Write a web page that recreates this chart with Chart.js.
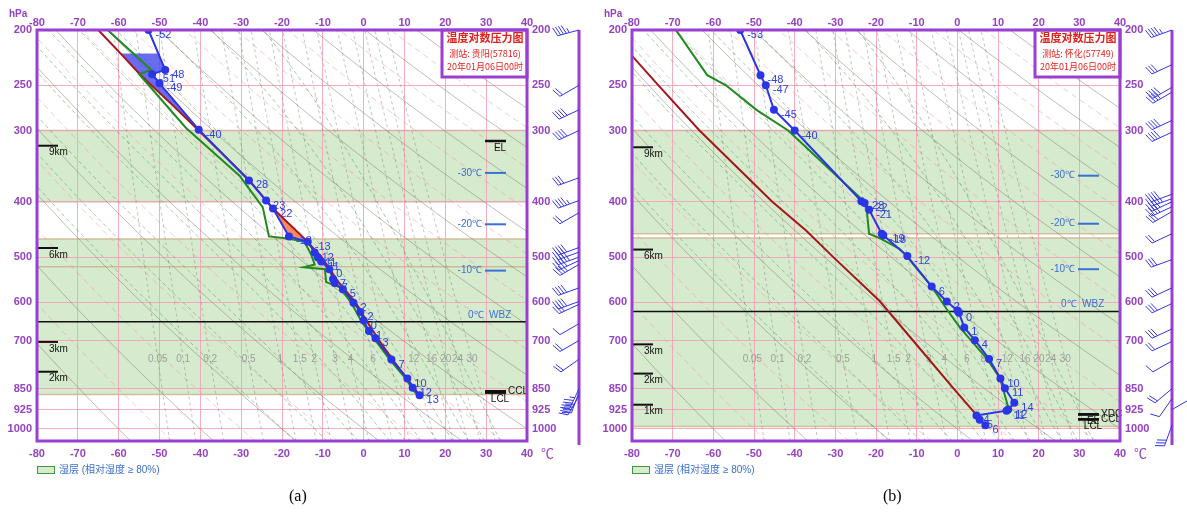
<!DOCTYPE html>
<html>
<head>
<meta charset="utf-8">
<script src="https://cdn.jsdelivr.net/npm/chart.js@4.4.1/dist/chart.umd.min.js"></script>
<style>
  body { margin: 0; background: #fff; width: 1187px; height: 514px; overflow: hidden; position: relative; }
  #ca { position: absolute; left: 0; top: 0; }
  #cb { position: absolute; left: 595px; top: 0; }
  .cap { position: absolute; top: 487px; font: 16px 'Liberation Serif', serif; color: #000; }
</style>
</head>
<body>
<canvas id="ca" width="595" height="514"></canvas>
<canvas id="cb" width="592" height="514"></canvas>
<div class="cap" style="left:289px">(a)</div>
<div class="cap" style="left:883px">(b)</div>
<script>
// axis ticks
const pressureTicks = [200, 250, 300, 400, 500, 600, 700, 850, 925, 1000];
const tempTicks = [-80, -70, -60, -50, -40, -30, -20, -10, 0, 10, 20, 30, 40];

// background families
const dryTheta = [-60, -40, -20, 0, 20, 40, 60, 80, 100, 120, 140, 160, 180, 200];
const pinkTheta = [-50, -30, -10, 10, 30, 50, 70, 90, 110, 130, 150, 170];
const moistStart = [-20, -12, -4, 4, 8, 12, 16, 20, 24, 28, 32];
const mixRatios = [0.05, 0.1, 0.2, 0.5, 1, 1.5, 2, 3, 4, 6, 8, 12, 16, 20, 24, 30];

// (a) 贵阳 57816
const aTempP = [200, 235, 239, 248, 299, 367, 398, 411, 460, 470, 491, 501, 509, 525, 546, 555, 569, 601, 624, 646, 674, 694, 756, 816, 847, 873];
const aTempT = [-52.7, -48.6, -51.8, -50.0, -40.4, -28.1, -23.9, -22.2, -18.3, -13.7, -12.0, -11.2, -10.4, -8.4, -7.5, -7.1, -5.1, -2.5, -0.8, 0.0, 1.3, 2.9, 6.8, 10.7, 12.0, 13.7];
const aTempLabels = ['-52', '48', '-51', '-49', '-40', '28', '23', '22', '-18', '-13', '12', '11', '11', '0', '7', '7', '5', '2', '2', '0', '1', '3', '7', '10', '12', '13'];
const aDewP = [200, 235, 239, 297, 360, 409, 460, 464, 470, 496, 515, 521, 525, 553, 565, 602, 649, 694, 756, 816, 847, 873];
const aDewT = [-62.7, -52.0, -55.0, -43.5, -30.4, -24.7, -23.2, -18.5, -14.5, -12.8, -12.0, -14.7, -9.5, -9.2, -5.8, -3.0, -0.5, 2.5, 6.4, 10.3, 11.7, 13.2];
const aParcelP = [200, 220, 240, 270, 300, 367, 411, 464, 500, 555, 600, 650, 700, 760, 820, 873];
const aParcelT = [-65.0, -59.5, -54.6, -47.0, -40.4, -28.0, -22.2, -14.5, -10.3, -6.0, -2.0, 0.9, 3.8, 7.3, 10.8, 13.7];
const aHumid = [[300, 400], [465, 520], [520, 870]];
const aHeightNames = ['9km', '6km', '3km', '2km'];
const aHeightP = [319, 482, 704, 794];
const aIsoNames = ['-30℃', '-20℃', '-10℃'];
const aIsoP = [356, 438, 528];
const aWbzP = 649;
const aMarkNames = ['EL', 'CCL', 'LCL'];
const aMarkP = [313, 859, 864];
const aWindP = [200, 250, 276, 300, 363, 398, 418, 481, 490, 500, 507, 515, 566, 598, 605, 654, 700, 755, 850, 862, 875];
const aWindDir = [255, 240, 245, 245, 250, 250, 240, 250, 250, 250, 245, 240, 250, 250, 245, 240, 240, 235, 205, 200, 210];
const aWindSpd = [45, 20, 40, 40, 30, 45, 20, 40, 40, 45, 40, 35, 40, 40, 30, 10, 20, 20, 45, 40, 30];

// (b) 怀化 57749
const bTempP = [200, 240, 250, 276, 300, 399, 402, 413, 455, 458, 498, 563, 598, 620, 626, 664, 699, 754, 816, 849, 900, 925, 929, 947, 964, 985];
const bTempT = [-53.4, -48.4, -47.1, -45.1, -40.0, -23.6, -22.8, -21.7, -18.6, -18.2, -12.3, -6.3, -2.6, 0.0, 0.4, 1.7, 4.3, 7.8, 10.6, 11.7, 14.0, 12.5, 12.1, 4.7, 5.5, 6.9];
const bTempLabels = ['-53', '-48', '-47', '-45', '-40', '-23', '-22', '-21', '-19', '-18', '-12', '6', '2', '', '0', '1', '4', '7', '10', '11', '14', '12', '11', '4', '5', '6'];
const bDewP = [200, 240, 250, 276, 300, 393, 411, 455, 463, 483, 494, 563, 617, 664, 752, 816, 915, 925];
const bDewT = [-69.2, -61.5, -56.9, -49.4, -41.6, -24.0, -22.3, -21.7, -19.1, -14.3, -12.9, -6.3, -2.6, 0.6, 7.2, 10.5, 12.5, 12.3];
const bParcelP = [222, 250, 300, 400, 449, 500, 597, 700, 850, 945];
const bParcelT = [-80.0, -73.5, -63.4, -45.5, -37.2, -30.5, -19.1, -10.9, -0.9, 4.7];
const bHumid = [[300, 455], [463, 990]];
const bHeightNames = ['9km', '6km', '3km', '2km', '1km'];
const bHeightP = [321, 485, 711, 800, 907];
const bIsoNames = ['-30℃', '-20℃', '-10℃'];
const bIsoP = [360, 437, 525];
const bWbzP = 623;
const bMarkNames = ['EL', 'YDC', 'CCL', 'LCL'];
const bMarkP = [943, 943, 962, 962];
const bWindP = [200, 230, 252, 257, 288, 302, 388, 395, 400, 408, 416, 455, 505, 566, 603, 668, 703, 760, 850, 885, 925, 985];
const bWindDir = [250, 245, 240, 240, 245, 245, 250, 250, 245, 245, 240, 245, 250, 245, 245, 245, 245, 240, 230, 215, 60, 200];
const bWindSpd = [45, 30, 40, 40, 40, 40, 40, 45, 40, 40, 30, 20, 30, 30, 30, 30, 20, 10, 20, 10, 10, 30];

const PURPLE = '#9a3fd2';
const LABEL = '#9642c2';
const PINK = 'rgba(242,160,180,0.85)';
const BLUE = '#2b35e8';
const tickFont = { family: 'Liberation Sans', size: 11, weight: 'bold' };

function toXY(P, T) { return P.map((p, i) => ({ x: T[i], y: p })); }

function interpT(P, T, p) {
  for (let i = 0; i < P.length - 1; i++) {
    if (p >= P[i] && p <= P[i + 1]) {
      const f = (Math.log(p) - Math.log(P[i])) / (Math.log(P[i + 1]) - Math.log(P[i]));
      return T[i] + f * (T[i + 1] - T[i]);
    }
  }
  return T[T.length - 1];
}

// polygon between parcel curve and environment curve
function areaBetween(pp, pt, ep, et, pTop, pBot) {
  const pts = [{ x: interpT(pp, pt, pTop), y: pTop }];
  pp.forEach((p, i) => { if (p > pTop && p < pBot) pts.push({ x: pt[i], y: p }); });
  pts.push({ x: interpT(pp, pt, pBot), y: pBot });
  pts.push({ x: interpT(ep, et, pBot), y: pBot });
  for (let i = ep.length - 1; i >= 0; i--) if (ep[i] > pTop && ep[i] < pBot) pts.push({ x: et[i], y: ep[i] });
  pts.push({ x: interpT(ep, et, pTop), y: pTop });
  return pts;
}

function es(t) { return 6.112 * Math.exp(17.67 * t / (t + 243.5)); }
function moistLapse(p, t) {
  const tk = t + 273.15, e = es(t), rs = 0.622 * e / (p - e);
  const num = 287 * tk + 2.5e6 * rs;
  const den = 1005 + 2.5e6 * 2.5e6 * rs * 0.622 / (287 * tk * tk);
  return num / (den * p);
}
function dewFromE(e) { const l = Math.log(e / 6.112); return 243.5 * l / (17.67 - l); }

function drawCurve(ctx, xs, ys, pts) {
  ctx.beginPath();
  pts.forEach((q, i) => { const X = xs(q[0]), Y = ys(q[1]); i ? ctx.lineTo(X, Y) : ctx.moveTo(X, Y); });
  ctx.stroke();
}

function drawBarb(ctx, x, y, dir, spd) {
  const r = dir * Math.PI / 180;
  const dx = Math.sin(r), dy = -Math.cos(r);
  const L = 22;
  const tx = x + dx * L, ty = y + dy * L;
  ctx.beginPath(); ctx.moveTo(x, y); ctx.lineTo(tx, ty); ctx.stroke();
  const px = -dy, py = dx;
  let s = spd, pos = 0;
  while (s >= 10) {
    const bx = tx - dx * pos, by = ty - dy * pos;
    ctx.beginPath(); ctx.moveTo(bx, by); ctx.lineTo(bx + px * 9 + dx * 3, by + py * 9 + dy * 3); ctx.stroke();
    s -= 10; pos += 3;
  }
  if (s >= 5) {
    const bx = tx - dx * pos, by = ty - dy * pos;
    ctx.beginPath(); ctx.moveTo(bx, by); ctx.lineTo(bx + px * 5 + dx * 1.5, by + py * 5 + dy * 1.5); ctx.stroke();
  }
}

function panel(id, d) {
  const areas = d.areas.map(a => ({
    data: areaBetween(d.parcelP, d.parcelT, d.tempP, d.tempT, a[0], a[1]),
    showLine: true, fill: 'shape', backgroundColor: a[2], borderWidth: 0, pointRadius: 0, order: 3
  }));

  const skewPlugin = {
    id: 'skew' + id,
    beforeDraw(chart) {
      const { ctx, chartArea: ca } = chart;
      const ys = p => chart.scales.y.getPixelForValue(p);
      ctx.save();
      d.humid.forEach(b => {
        const y1 = ys(b[0]), y2 = ys(b[1]);
        ctx.fillStyle = 'rgb(214,235,205)';
        ctx.fillRect(ca.left, y1, ca.width, y2 - y1);
        ctx.strokeStyle = 'rgba(205,185,150,0.9)';
        ctx.lineWidth = 1.5;
        ctx.beginPath(); ctx.moveTo(ca.left, y1); ctx.lineTo(ca.right, y1);
        ctx.moveTo(ca.left, y2); ctx.lineTo(ca.right, y2); ctx.stroke();
      });
      ctx.restore();
    },
    beforeDatasetsDraw(chart) {
      const { ctx, chartArea: ca } = chart;
      const xs = v => chart.scales.x.getPixelForValue(v);
      const ys = p => chart.scales.y.getPixelForValue(p);
      const levels = [];
      for (let p = 1050; p >= 200; p -= 10) levels.push(p);
      ctx.save();
      ctx.beginPath(); ctx.rect(ca.left, ca.top, ca.width, ca.height); ctx.clip();
      // dry adiabats
      ctx.strokeStyle = 'rgba(125,115,95,0.6)'; ctx.lineWidth = 0.8; ctx.setLineDash([]);
      dryTheta.forEach(th => drawCurve(ctx, xs, ys, levels.map(p => [(th + 273.15) * Math.pow(p / 1000, 0.2857) - 273.15, p])));
      // pink dashed lines
      ctx.strokeStyle = 'rgba(235,130,140,0.55)'; ctx.setLineDash([6, 4]);
      pinkTheta.forEach(th => drawCurve(ctx, xs, ys, levels.map(p => [(th + 273.15) * Math.pow(p / 1000, 0.2857) - 273.15, p])));
      // moist adiabats
      ctx.strokeStyle = 'rgba(60,150,70,0.6)'; ctx.setLineDash([4, 3]);
      moistStart.forEach(t0 => {
        const pts = [];
        let t = t0;
        for (let p = 1000; p >= 200; p -= 5) { pts.push([t, p]); t -= moistLapse(p, t) * 5; }
        pts.unshift([t0 + moistLapse(1000, t0) * 50, 1050]);
        drawCurve(ctx, xs, ys, pts);
      });
      // mixing ratio lines
      ctx.strokeStyle = 'rgba(120,120,120,0.55)'; ctx.setLineDash([3, 3]);
      mixRatios.forEach(w => drawCurve(ctx, xs, ys, levels.map(p => [dewFromE(w * p / (622 + w)), p])));
      ctx.setLineDash([]);
      ctx.fillStyle = 'rgba(140,140,140,0.8)'; ctx.font = '10px Liberation Sans';
      ctx.textAlign = 'center'; ctx.textBaseline = 'middle';
      mixRatios.forEach(w => ctx.fillText(String(w), xs(dewFromE(w * 755 / (622 + w))), ys(755)));
      // 0℃ wet bulb zero line
      ctx.strokeStyle = '#111'; ctx.lineWidth = 1.5;
      ctx.beginPath(); ctx.moveTo(ca.left, ys(d.wbz)); ctx.lineTo(ca.right, ys(d.wbz)); ctx.stroke();
      ctx.restore();
    },
    afterDatasetsDraw(chart) {
      const { ctx, chartArea: ca } = chart;
      const ys = p => chart.scales.y.getPixelForValue(p);
      ctx.save();
      // point labels on temperature curve
      ctx.fillStyle = '#2f3fe0'; ctx.font = '11px Liberation Sans';
      ctx.textAlign = 'left'; ctx.textBaseline = 'middle';
      chart.getDatasetMeta(0).data.forEach((pt, i) => {
        const t = d.tempLabels[i];
        if (t) ctx.fillText(t, pt.x + 7, pt.y + 5);
      });
      // WBZ label
      ctx.fillStyle = '#3a6fd8'; ctx.font = '10px Liberation Sans';
      ctx.fillText('0℃  WBZ', ca.right - 59, ys(d.wbz) - 7);
      // iso temperature heights
      d.isoNames.forEach((n, i) => {
        const y = ys(d.isoP[i]);
        ctx.strokeStyle = '#3a6fd8'; ctx.lineWidth = 2;
        ctx.beginPath(); ctx.moveTo(ca.right - 42, y); ctx.lineTo(ca.right - 21, y); ctx.stroke();
        ctx.textAlign = 'right'; ctx.fillText(n, ca.right - 45, y);
      });
      // height markers
      ctx.textAlign = 'left'; ctx.fillStyle = '#111'; ctx.font = '10px Liberation Sans';
      d.heightNames.forEach((n, i) => {
        const y = ys(d.heightP[i]);
        ctx.strokeStyle = '#111'; ctx.lineWidth = 2;
        ctx.beginPath(); ctx.moveTo(ca.left, y); ctx.lineTo(ca.left + 21, y); ctx.stroke();
        ctx.fillText(n, ca.left + 12, y + 7);
      });
      // EL / CCL / LCL markers
      ctx.font = '10px Liberation Sans';
      d.markNames.forEach((n, i) => {
        const y = ys(d.markP[i]);
        ctx.strokeStyle = '#111'; ctx.lineWidth = 2.5;
        ctx.beginPath(); ctx.moveTo(ca.right - 42, y); ctx.lineTo(ca.right - 21, y); ctx.stroke();
        if (n === 'EL' || n === 'LCL') { ctx.textAlign = 'center'; ctx.fillText(n, ca.right - 27, y + 7); }
        else { ctx.textAlign = 'left'; ctx.fillText(n, ca.right - 19, y); }
      });
      ctx.restore();
    },
    afterDraw(chart) {
      const { ctx, chartArea: ca } = chart;
      const ys = p => chart.scales.y.getPixelForValue(p);
      ctx.save();
      // title box
      const bx = ca.right - 85, by = ca.top, bh = 47;
      ctx.fillStyle = '#fff'; ctx.fillRect(bx, by, 85, bh);
      ctx.strokeStyle = PURPLE; ctx.lineWidth = 3; ctx.strokeRect(bx, by, 85, bh);
      ctx.fillStyle = '#e3201c'; ctx.textAlign = 'center'; ctx.textBaseline = 'middle';
      ctx.font = 'bold 11px "Noto Sans CJK SC"';
      ctx.fillText('温度对数压力图', bx + 43, by + 8);
      ctx.font = '9px "Noto Sans CJK SC"';
      ctx.fillText(d.station, bx + 43, by + 24);
      ctx.fillText('20年01月06日00时', bx + 43, by + 37);
      // frame
      ctx.strokeStyle = PURPLE; ctx.lineWidth = 3;
      ctx.strokeRect(ca.left, ca.top, ca.width, ca.height);
      // wind barb axis
      const lx = ca.right + 52;
      ctx.beginPath(); ctx.moveTo(lx, ca.top); ctx.lineTo(lx, ca.bottom + 4); ctx.stroke();
      ctx.strokeStyle = '#3535e0'; ctx.lineWidth = 1;
      d.windP.forEach((p, i) => drawBarb(ctx, lx, ys(p), d.windDir[i], d.windSpd[i]));
      // unit labels
      ctx.fillStyle = LABEL; ctx.font = 'bold 10px Liberation Sans'; ctx.textAlign = 'left';
      ctx.fillText('hPa', 9, 14);
      ctx.font = '13px "Noto Sans CJK SC"';
      ctx.fillText('℃', ca.right + 14, 453);
      // legend
      ctx.fillStyle = 'rgb(214,235,205)'; ctx.fillRect(ca.left, 466, 17, 7);
      ctx.strokeStyle = '#3c9a3c'; ctx.lineWidth = 1; ctx.strokeRect(ca.left + 0.5, 466.5, 17, 7);
      ctx.fillStyle = '#3a6fd0'; ctx.font = '10px "Liberation Sans", "Noto Sans CJK SC"';
      ctx.fillText('湿层 (相对湿度 ≥ 80%)', ca.left + 22, 470);
      ctx.restore();
    }
  };

  const xAxis = (pos, h, pad, grid) => ({
    type: 'linear', position: pos, min: -80, max: 40,
    afterBuildTicks: s => { s.ticks = tempTicks.map(v => ({ value: v })); },
    afterFit: s => { s.height = h; },
    grid: grid ? { color: PINK, lineWidth: 1, drawTicks: false } : { display: false, drawTicks: false },
    border: { display: false },
    ticks: { color: LABEL, font: tickFont, padding: pad, maxRotation: 0, autoSkip: false, callback: v => String(v) }
  });
  const yAxis = (pos, w, grid) => ({
    type: 'logarithmic', position: pos, reverse: true, min: 200, max: 1050,
    afterBuildTicks: s => { s.ticks = pressureTicks.map(v => ({ value: v })); },
    afterFit: s => { s.width = w; },
    grid: grid ? { color: PINK, lineWidth: 1, drawTicks: false } : { display: false, drawTicks: false },
    border: { display: false },
    ticks: { color: LABEL, font: tickFont, padding: 5, autoSkip: false, callback: v => String(v) }
  });

  return new Chart(document.getElementById(id), {
    type: 'scatter',
    data: {
      datasets: [
        { data: toXY(d.tempP, d.tempT), showLine: true, borderColor: BLUE, backgroundColor: BLUE, borderWidth: 2, pointRadius: 3, pointHoverRadius: 3, order: 0 },
        { data: toXY(d.dewP, d.dewT), showLine: true, borderColor: '#1f8a1f', borderWidth: 2, pointRadius: 0, order: 1 },
        { data: toXY(d.parcelP, d.parcelT), showLine: true, borderColor: '#a3171a', borderWidth: 2, pointRadius: 0, order: 2 },
        ...areas
      ]
    },
    options: {
      responsive: false, animation: false, events: [],
      layout: { padding: { left: 0, right: 0, top: 0, bottom: 48 } },
      plugins: { legend: { display: false }, tooltip: { enabled: false } },
      scales: {
        x: xAxis('bottom', 25, 6, true),
        x2: xAxis('top', 30, 0, false),
        y: yAxis('left', 37, true),
        y2: yAxis('right', d.rightW, false)
      }
    },
    plugins: [skewPlugin]
  });
}

panel('ca', {
  tempP: aTempP, tempT: aTempT, tempLabels: aTempLabels, dewP: aDewP, dewT: aDewT,
  parcelP: aParcelP, parcelT: aParcelT, humid: aHumid,
  areas: [[220, 300, 'rgba(70,70,235,0.8)'], [411, 555, 'rgba(250,125,75,0.9)']],
  heightNames: aHeightNames, heightP: aHeightP, isoNames: aIsoNames, isoP: aIsoP, wbz: aWbzP,
  markNames: aMarkNames, markP: aMarkP, windP: aWindP, windDir: aWindDir, windSpd: aWindSpd,
  station: '测站: 贵阳(57816)', rightW: 68
});
panel('cb', {
  tempP: bTempP, tempT: bTempT, tempLabels: bTempLabels, dewP: bDewP, dewT: bDewT,
  parcelP: bParcelP, parcelT: bParcelT, humid: bHumid, areas: [],
  heightNames: bHeightNames, heightP: bHeightP, isoNames: bIsoNames, isoP: bIsoP, wbz: bWbzP,
  markNames: bMarkNames, markP: bMarkP, windP: bWindP, windDir: bWindDir, windSpd: bWindSpd,
  station: '测站: 怀化(57749)', rightW: 67
});
</script>
</body>
</html>
